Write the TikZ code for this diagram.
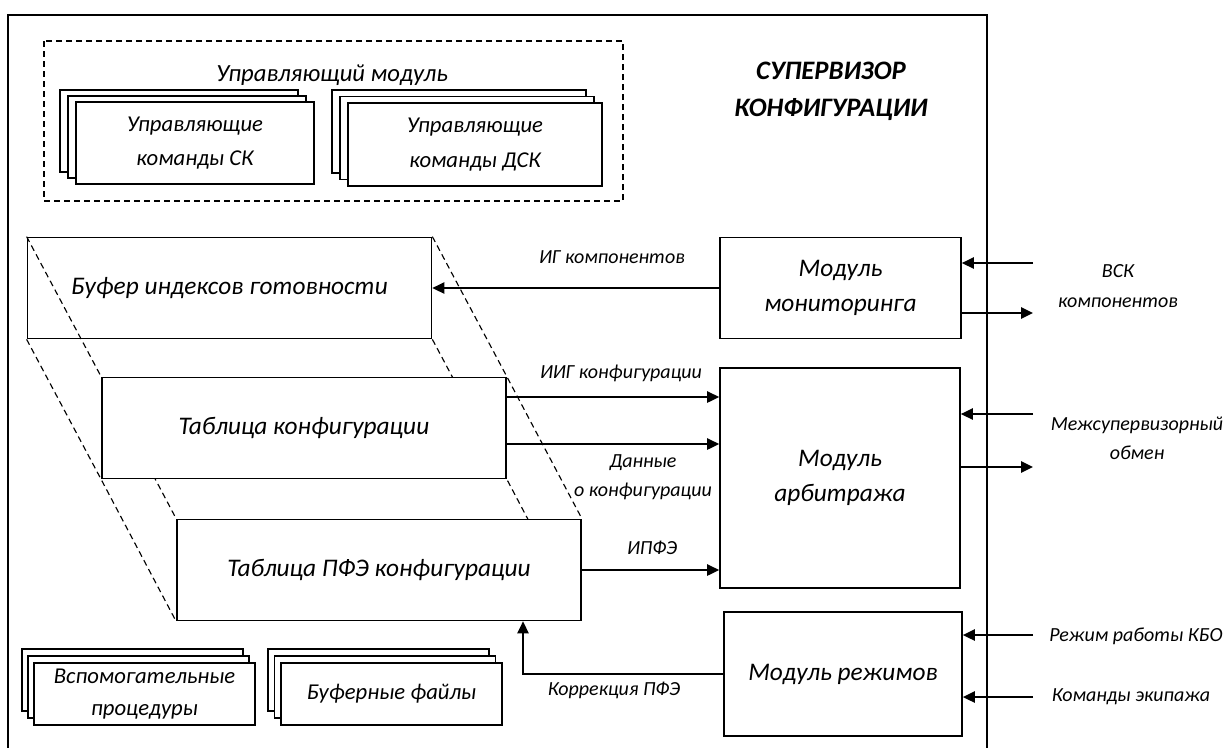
\documentclass[tikz,border=0pt]{standalone}
\usepackage{fontspec}
\setmainfont{Carlito}
\usetikzlibrary{arrows.meta,calc}
\pgfdeclarelayer{bg}
\pgfsetlayers{bg,main}
\begin{document}
\begin{tikzpicture}[x=0.75pt,y=-0.75pt,
  box/.style={draw, line width=1.3pt, fill=white, inner sep=0pt, align=center,
    font=\fontsize{19}{26}\selectfont\itshape},
  layer/.style={draw, line width=1.3pt, fill=white, inner sep=0pt},
  small/.style={inner sep=0pt, align=center, font=\fontsize{15}{22}\selectfont\itshape},
  mid/.style={inner sep=0pt, align=center, font=\fontsize{18.5}{26}\selectfont\itshape},
  arr/.style={line width=1.3pt, -{Triangle[length=9pt,width=8.5pt]}},
  dashedline/.style={line width=0.85pt, dash pattern=on 4.5pt off 3pt},
]
\useasboundingbox (0,0) rectangle (1223,747);

% outer frame
\draw[line width=1.3pt] (8,750) -- (8,15) -- (987,15) -- (987,750);

% control module (dashed)
\draw[dashedline] (44,41) rectangle (623,201);
\node[mid] (um) at (332,75) {Управляющий модуль};

% stack SK
\node[layer, minimum width=178.5pt, minimum height=61.5pt] (sk3) at (179,131) {};
\node[layer, minimum width=178.5pt, minimum height=61.5pt] (sk2) at (187,137) {};
\node[box, minimum width=178.5pt, minimum height=61.5pt, font=\fontsize{17}{26}\selectfont\itshape] (sk) at (195,143) {Управляющие\\команды СК};

% stack DSK
\node[layer, minimum width=190.5pt, minimum height=62.25pt] (dsk3) at (459,131.5) {};
\node[layer, minimum width=190.5pt, minimum height=62.25pt] (dsk2) at (467,138) {};
\node[box, minimum width=190.5pt, minimum height=62.25pt, font=\fontsize{17}{26}\selectfont\itshape] (dsk) at (475,144.5) {Управляющие\\команды ДСК};

% title
\node[inner sep=0pt, align=center, font=\fontsize{20}{28}\selectfont\bfseries\itshape] (title) at (831,91) {СУПЕРВИЗОР\\КОНФИГУРАЦИИ};

% layered tables
\node[box, fill=none, minimum width=303pt, minimum height=75.75pt] (buf) at (229.5,288) {Буфер индексов готовности};
\node[box, minimum width=303pt, minimum height=75.75pt] (tab) at (304,428) {Таблица конфигурации};
\node[box, minimum width=303pt, minimum height=75.75pt] (pfe) at (379,570) {Таблица ПФЭ конфигурации};

\begin{pgfonlayer}{bg}
\draw[dashedline] (buf.north west) -- (tab.north west) -- (pfe.north west);
\draw[dashedline] (buf.south west) -- (tab.south west) -- (pfe.south west);
\draw[dashedline] (buf.north east) -- (tab.north east) -- (pfe.north east);
\draw[dashedline] (buf.south east) -- (tab.south east) -- (pfe.south east);
\end{pgfonlayer}

% modules
\node[box, minimum width=180.75pt, minimum height=75.75pt] (mon) at (840.5,288) {Модуль\\мониторинга};
\node[box, minimum width=180pt, minimum height=165pt] (arb) at (840,478) {Модуль\\арбитража};
\node[box, minimum width=178.5pt, minimum height=93pt] (rez) at (843,674) {Модуль режимов};

% bottom stacks
\node[layer, minimum width=165.75pt, minimum height=46.5pt] (vp3) at (132.5,680) {};
\node[layer, minimum width=165.75pt, minimum height=46.5pt] (vp2) at (138.5,687) {};
\node[box, minimum width=165.75pt, minimum height=46.5pt, font=\fontsize{17}{24}\selectfont\itshape] (vp) at (144.5,694) {Вспомогательные\\процедуры};
\node[layer, minimum width=165.75pt, minimum height=46.5pt] (bf3) at (378.5,680) {};
\node[layer, minimum width=165.75pt, minimum height=46.5pt] (bf2) at (385,687) {};
\node[box, minimum width=165.75pt, minimum height=46.5pt, font=\fontsize{17}{24}\selectfont\itshape] (bf) at (391.5,694) {Буферные файлы};

% internal connectors
\draw[arr] (mon.west) -- (buf.east);
\node[small] (lig) at (612,257) {ИГ компонентов};

\path (tab.east) ++(0,-31) coordinate (t1);
\path (tab.east) ++(0,16) coordinate (t2);
\draw[arr] (t1) -- (t1 -| arb.west);
\draw[arr] (t2) -- (t2 -| arb.west);
\node[small] (liig) at (621,373) {ИИГ конфигурации};
\node[small] (ldan) at (643,477) {Данные\\о конфигурации};
\draw[arr] (pfe.east) -- (pfe.east -| arb.west);
\node[small] (lipfe) at (652,548) {ИПФЭ};

\draw[arr] (rez.west) -| ([xshift=108pt]pfe.south);
\node[small] (lkor) at (614,690) {Коррекция ПФЭ};

% external connectors
\coordinate (e1) at (1033,263);
\coordinate (e2) at (1033,313);
\coordinate (e3) at (1033,414);
\coordinate (e4) at (1033,467);
\coordinate (e5) at (1033,635);
\coordinate (e6) at (1033,697);
\draw[arr] (e1) -- (e1 -| mon.east);
\draw[arr] (e2 -| mon.east) -- (e2);
\draw[arr] (e3) -- (e3 -| arb.east);
\draw[arr] (e4 -| arb.east) -- (e4);
\draw[arr] (e5) -- (e5 -| rez.east);
\draw[arr] (e6) -- (e6 -| rez.east);

\node[small] (lvsk) at (1118,286) {ВСК\\компонентов};
\node[small] (lmsh) at (1137,438) {Межсупервизорный\\обмен};
\node[small] (lkbo) at (1136,636) {Режим работы КБО};
\node[small] (lkom) at (1131,697) {Команды экипажа};
\end{tikzpicture}
\end{document}
